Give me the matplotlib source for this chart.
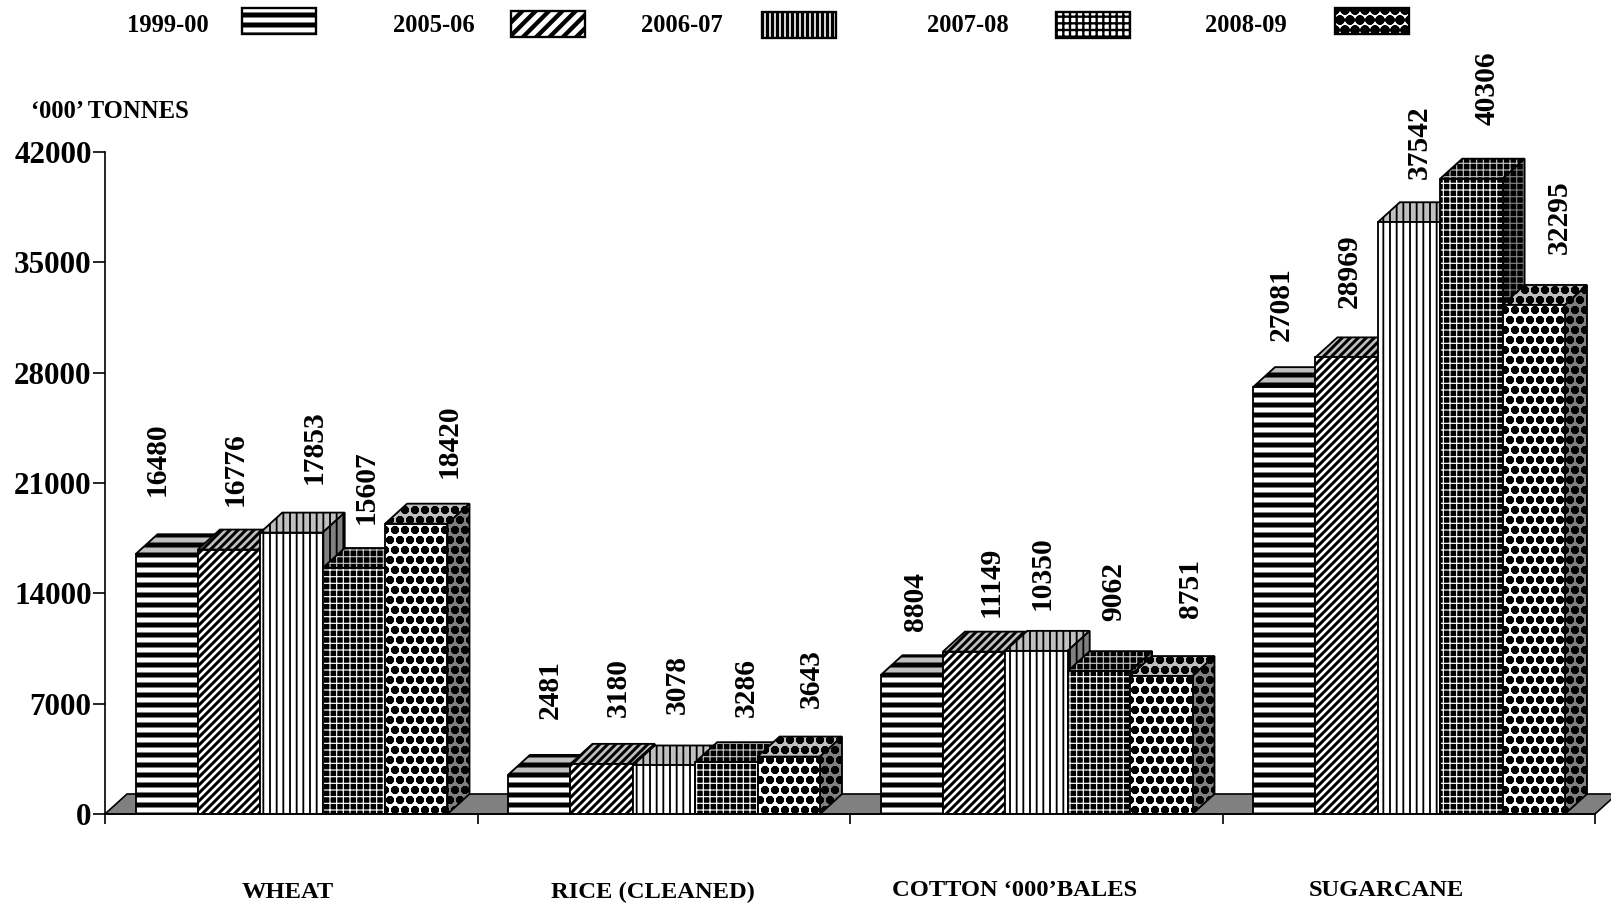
import matplotlib
matplotlib.use('Agg')
import matplotlib.pyplot as plt
from matplotlib.patches import Polygon, Rectangle

plt.rcParams['font.family'] = ['Liberation Serif', 'DejaVu Serif']
plt.rcParams['font.weight'] = 'bold'

# data
crops = ['WHEAT', 'RICE (CLEANED)', 'COTTON \u2018000\u2019BALES', 'SUGARCANE']
years = ['1999-00', '2005-06', '2006-07', '2007-08', '2008-09']
wheat = [16480, 16776, 17853, 15607, 18420]
rice = [2481, 3180, 3078, 3286, 3643]
cotton = [8804, 10300, 10350, 9062, 8751]  # second bar is drawn lower than its printed label
sugarcane = [27081, 28969, 37542, 40306, 32295]
printed = [
    ['16480', '16776', '17853', '15607', '18420'],
    ['2481', '3180', '3078', '3286', '3643'],
    ['8804', '11149', '10350', '9062', '8751'],
    ['27081', '28969', '37542', '40306', '32295'],
]
yticks = [0, 7000, 14000, 21000, 28000, 35000, 42000]

# label offsets from the bar top, pixels
label_dx = [
    [-9, 6, 22, 12, 32],
    [11, 16, 13, 19, 22],
    [4, 17, 5, 14, 28],
    [-3, 3, 10, 15, 25],
]
label_dy = [
    [57, 42, 47, 43, 44],
    [54, 46, 50, 44, 47],
    [43, 34, 40, 49, 57],
    [45, 48, 42, 52, 50],
]

W, H = 1611, 905
fig = plt.figure(figsize=(W / 120, H / 120), dpi=120, facecolor='white')
ax = fig.add_axes([105 / W, 1 - 814 / H, 1490 / W, 662 / H])
ax.set_xlim(0, 4)
ax.set_ylim(0, 42000)
ax.patch.set_visible(False)

bar_w = 62.4 / 372.5
margin = 30.5 / 372.5
depth_x = 22 / 372.5
depth_y = 20 / 662 * 42000

# face, hatch colour, hatch, hatch width for front / top / side
styles = [
    (('white', 'black', '--', 3.0), ('#c0c0c0', 'black', '--', 3.0), ('#808080', 'black', '--', 3.0)),
    (('white', 'black', '/////', 1.8), ('#c0c0c0', 'black', '/////', 1.8), ('#808080', 'black', '/////', 1.8)),
    (('white', 'black', '|||', 1.1), ('#c0c0c0', 'black', '|||', 1.1), ('#808080', 'black', '|||', 1.1)),
    (('black', 'white', '+++', 0.7), ('black', '#c0c0c0', '+++', 0.7), ('black', '#808080', '+++', 0.7)),
    (('white', 'black', 'oo', 2.4), ('#c0c0c0', 'black', 'oo', 2.4), ('#808080', 'black', 'oo', 2.4)),
]


def hatched(patch, lw):
    if hasattr(patch, 'set_hatch_linewidth'):
        patch.set_hatch_linewidth(lw)
    else:
        plt.rcParams['hatch.linewidth'] = lw
    return patch


def poly(pts, st, z):
    face, hcol, hatch, lw = st
    ax.add_patch(hatched(Polygon(pts, closed=True, facecolor=face, edgecolor=hcol, hatch=hatch,
                                 linewidth=0, zorder=z, clip_on=False), lw))
    ax.add_patch(Polygon(pts, closed=True, facecolor='none', edgecolor='black', linewidth=1.1,
                         zorder=z + 0.1, clip_on=False))


# floor
ax.add_patch(Polygon([(0, 0), (depth_x, depth_y), (4 + depth_x, depth_y), (4, 0)], closed=True,
                     facecolor='#808080', edgecolor='black', linewidth=1.0, zorder=1, clip_on=False))

z = 2
for g, vals in enumerate([wheat, rice, cotton, sugarcane]):
    for j, v in enumerate(vals):
        x0 = g + margin + j * bar_w
        x1 = x0 + bar_w
        front, top, side = styles[j]
        poly([(x0, v), (x0 + depth_x, v + depth_y), (x1 + depth_x, v + depth_y), (x1, v)], top, z)
        poly([(x1, 0), (x1 + depth_x, depth_y), (x1 + depth_x, v + depth_y), (x1, v)], side, z + 1)
        face, hcol, hatch, lw = front
        b = ax.bar(x0, v, bar_w, align='edge', facecolor=face, edgecolor=hcol, hatch=hatch,
                   linewidth=0, zorder=z + 2)[0]
        hatched(b, lw)
        ax.bar(x0, v, bar_w, align='edge', facecolor='none', edgecolor='black', linewidth=1.1, zorder=z + 2.1)
        ax.annotate(printed[g][j], (x0 + bar_w / 2, v), xytext=(label_dx[g][j] * 1.027, label_dy[g][j] * 1.027),
                    textcoords='offset pixels', rotation=90, ha='center', va='bottom',
                    fontsize=17.7, fontweight='bold', zorder=200, annotation_clip=False)
        z += 3

for s in ['top', 'right']:
    ax.spines[s].set_visible(False)
for s in ['left', 'bottom']:
    ax.spines[s].set_linewidth(1.0)
    ax.spines[s].set_zorder(150)

ax.set_yticks(yticks)
ax.set_yticklabels([str(t) for t in yticks], fontsize=18.7, fontweight='bold')
ax.set_xticks(range(5))
ax.set_xticklabels([])
ax.tick_params(axis='y', length=7, width=1.0, pad=1)
ax.tick_params(axis='x', length=6, width=1.0)

# category names sit off the group centres in the original
cat_x = [288, 653, 1015, 1386]
cat_y = [892, 892, 891, 891]
for name, cx, cy in zip(crops, cat_x, cat_y):
    fig.text(cx / W, 1 - cy / H, name, ha='center', va='center', fontsize=14.7, fontweight='bold')

fig.text(31 / W, 1 - 112 / H, '\u2018000\u2019 TONNES', ha='left', va='center', fontsize=14.8, fontweight='bold')

# legend
text_x = [127, 393, 641, 927, 1205]
box_x = [242, 511, 762, 1056, 1335]
box_y = [8, 11, 12, 12, 8]
legend_styles = [
    ('white', 'black', '--', 3.0),
    ('white', 'black', '///', 2.6),
    ('white', 'black', '||||', 2.0),
    ('white', 'black', '+++', 1.4),
    ('white', 'black', 'oo', 3.2),
]
for i, yr in enumerate(years):
    fig.text(text_x[i] / W, 1 - 26 / H, yr, ha='left', va='center', fontsize=14.8, fontweight='bold')
    face, hcol, hatch, lw = legend_styles[i]
    r = Rectangle((box_x[i] / W, 1 - (box_y[i] + 26) / H), 74 / W, 26 / H, transform=fig.transFigure,
                  facecolor=face, edgecolor=hcol, hatch=hatch, linewidth=0)
    fig.add_artist(hatched(r, lw))
    fig.add_artist(Rectangle((box_x[i] / W, 1 - (box_y[i] + 26) / H), 74 / W, 26 / H, transform=fig.transFigure,
                             facecolor='none', edgecolor='black', linewidth=1.4))

fig.savefig('out.png', dpi=120)
